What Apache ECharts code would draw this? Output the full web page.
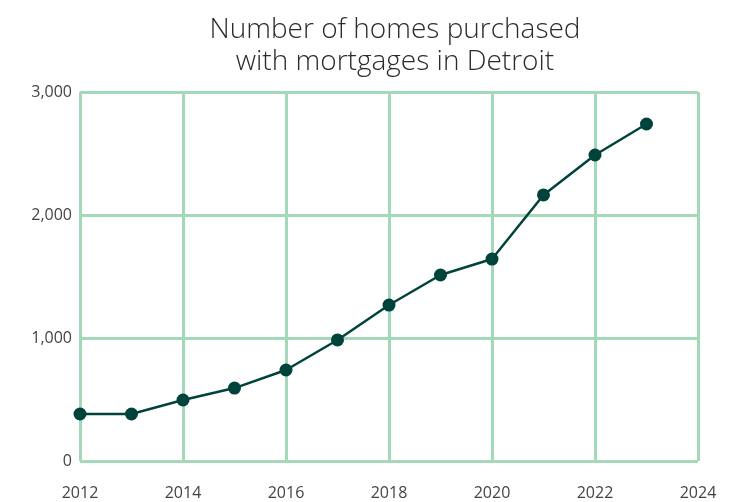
<!DOCTYPE html>
<html>
<head>
<meta charset="utf-8">
<script src="https://cdn.jsdelivr.net/npm/echarts@6/dist/echarts.min.js"></script>
<style>
  html, body { margin: 0; padding: 0; background: #ffffff; }
  #chart { width: 748px; height: 502px; }
</style>
</head>
<body>
<div id="chart"></div>
<script>
// Homes purchased with mortgages in Detroit
const years = [2012, 2013, 2014, 2015, 2016, 2017, 2018, 2019, 2020, 2021, 2022, 2023];
const homes = [382, 382, 496, 593, 740, 984, 1268, 1512, 1642, 2163, 2488, 2740];

const gridColor = '#a3d9b8';
const lineColor = '#00433b';

const chart = echarts.init(document.getElementById('chart'), null, { renderer: 'canvas' });

chart.setOption({
    animation: false,
    title: {
        text: 'Number of homes purchased\nwith mortgages in Detroit',
        left: 390,
        textAlign: 'center',
        top: 9,
        textStyle: {
            fontFamily: 'Open Sans',
            fontWeight: 300,
            fontSize: 28,
            lineHeight: 32,
            color: '#2b2b2b'
        }
    },
    grid: { left: 80, top: 92, width: 618, height: 369, containLabel: false },
    xAxis: {
        type: 'value',
        min: 2012,
        max: 2024,
        interval: 2,
        axisLine: { show: false },
        axisTick: { show: false },
        axisLabel: {
            margin: 24,
            fontFamily: 'Open Sans',
            fontSize: 16,
            color: '#444',
            formatter: v => String(v)
        },
        splitLine: { show: true, lineStyle: { color: gridColor, width: 3 } }
    },
    yAxis: {
        type: 'value',
        min: 0,
        max: 3000,
        interval: 1000,
        axisLine: { show: false },
        axisTick: { show: false },
        axisLabel: {
            margin: 8,
            fontFamily: 'Open Sans',
            fontSize: 16,
            color: '#444',
            formatter: v => v.toLocaleString('en-US')
        },
        splitLine: { show: true, lineStyle: { color: gridColor, width: 3 } }
    },
    series: [{
        type: 'line',
        data: years.map((y, i) => [y, homes[i]]),
        symbol: 'circle',
        symbolSize: 13,
        lineStyle: { color: lineColor, width: 2.5 },
        itemStyle: { color: lineColor },
        z: 5
    }]
});
</script>
</body>
</html>
